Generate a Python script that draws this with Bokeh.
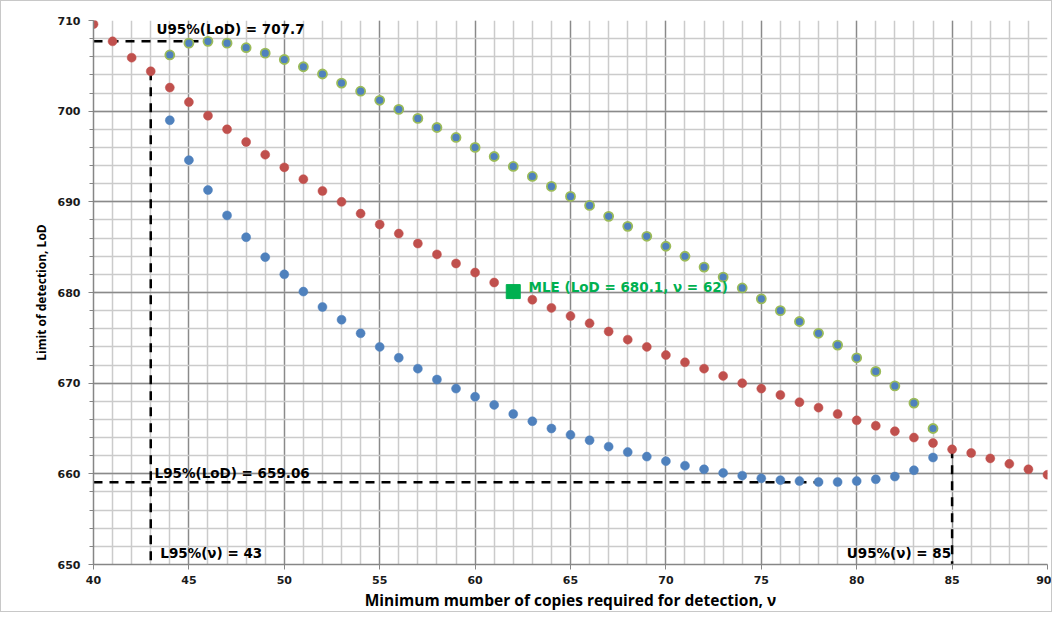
from bokeh.plotting import figure
from bokeh.models import SingleIntervalTicker, Range1d, Label
from bokeh.embed import file_html
from bokeh.resources import INLINE

# ---- data ----
nu_mid = list(range(40, 91))
lod_mid = [709.6, 707.7, 705.9, 704.4, 702.6, 701.0, 699.5, 698.0, 696.6, 695.2,
           693.8, 692.5, 691.2, 690.0, 688.7, 687.5, 686.5, 685.4, 684.2, 683.2,
           682.2, 681.1, 680.1, 679.2, 678.3, 677.4, 676.6, 675.7, 674.8, 674.0,
           673.1, 672.3, 671.6, 670.8, 670.0, 669.4, 668.7, 667.9, 667.3, 666.6,
           665.9, 665.3, 664.7, 664.0, 663.4, 662.7, 662.3, 661.7, 661.1, 660.5,
           659.9]

nu_band = list(range(44, 85))
lod_low = [699.0, 694.6, 691.3, 688.5, 686.1, 683.9, 682.0, 680.1, 678.4, 677.0,
           675.5, 674.0, 672.8, 671.6, 670.4, 669.4, 668.5, 667.6, 666.6, 665.8,
           665.0, 664.3, 663.7, 663.0, 662.4, 661.9, 661.4, 660.9, 660.5, 660.1,
           659.8, 659.5, 659.3, 659.2, 659.1, 659.1, 659.2, 659.4, 659.7, 660.4,
           661.8]
lod_high = [706.2, 707.5, 707.7, 707.5, 707.0, 706.4, 705.7, 704.9, 704.1, 703.1,
            702.2, 701.2, 700.2, 699.2, 698.2, 697.1, 696.0, 695.0, 693.9, 692.8,
            691.7, 690.6, 689.6, 688.4, 687.3, 686.2, 685.1, 684.0, 682.8, 681.7,
            680.5, 679.3, 678.0, 676.8, 675.5, 674.2, 672.8, 671.3, 669.7, 667.8,
            665.0]

U95_LOD = 707.7
L95_LOD = 659.06
L95_NU = 43
U95_NU = 85
MLE_LOD = 680.1
MLE_NU = 62

X_MIN, X_MAX = 40, 90
Y_MIN, Y_MAX = 650, 710

RED = "#C0504D"
BLUE = "#4F81BD"
GREEN_EDGE = "#9BBB59"
MLE_GREEN = "#00B050"
LABEL_FONT = "DejaVu Sans"

p = figure(width=1052, height=612, output_backend="svg", toolbar_location=None,
           x_range=Range1d(X_MIN, X_MAX), y_range=Range1d(Y_MIN, Y_MAX),
           min_border_left=92, min_border_right=6, min_border_top=19,
           min_border_bottom=40)
p.styles = {"border": "1px solid #c8c8c8"}
p.outline_line_color = None
p.background_fill_color = "white"

# axes / ticks
p.xaxis.ticker = SingleIntervalTicker(interval=5, num_minor_ticks=5)
p.yaxis.ticker = SingleIntervalTicker(interval=10, num_minor_ticks=5)
for ax in (p.xaxis[0], p.yaxis[0]):
    ax.axis_line_color = "#868686"
    ax.axis_line_width = 1.5
    ax.major_tick_line_color = "#868686"
    ax.major_tick_out = 5
    ax.major_tick_in = 0
    ax.major_label_text_font = LABEL_FONT
    ax.major_label_text_font_style = "bold"
    ax.major_label_text_font_size = "11px"
    ax.major_label_text_color = "#1a1a1a"
    ax.axis_label_text_font = "Open Sans"
    ax.axis_label_text_font_style = "bold"
    ax.axis_label_text_color = "#000000"
p.xaxis.minor_tick_line_color = None
p.yaxis.minor_tick_line_color = "#868686"
p.yaxis.minor_tick_out = 4
p.yaxis.minor_tick_in = 0
p.xaxis.axis_label = "Minimum mumber of copies required for detection, \u03bd"
p.xaxis.axis_label_text_font_size = "15.5px"
p.xaxis.axis_label_standoff = 2
p.xaxis.major_label_standoff = 6
p.yaxis.axis_label = "Limit of detection, LoD"
p.yaxis.axis_label_text_font_size = "12px"
p.yaxis.major_label_standoff = 8

# grid
p.xgrid.grid_line_color = "#8a8a8a"
p.xgrid.grid_line_width = 1.3
p.xgrid.minor_grid_line_color = "#cbcbcb"
p.xgrid.minor_grid_line_width = 1.5
p.ygrid.grid_line_color = "#8a8a8a"
p.ygrid.grid_line_width = 1.3
p.ygrid.minor_grid_line_color = "#cbcbcb"
p.ygrid.minor_grid_line_width = 1.5

# dashed confidence lines
nu_at_max = nu_band[lod_high.index(max(lod_high))]
nu_at_min = nu_band[lod_low.index(min(lod_low))]
red_at_l95 = lod_mid[nu_mid.index(L95_NU)]
red_at_u95 = lod_mid[nu_mid.index(U95_NU)]
dash = dict(line_color="black", line_width=2.5, line_dash="9 7")
p.line([X_MIN, nu_at_max], [U95_LOD, U95_LOD], **dash)
p.line([L95_NU, L95_NU], [red_at_l95, Y_MIN], **dash)
p.line([X_MIN, nu_at_min + 0.5], [L95_LOD, L95_LOD], **dash)
p.line([U95_NU, U95_NU], [red_at_u95, Y_MIN], **dash)

# series
p.scatter(nu_mid, lod_mid, size=9, fill_color=RED, line_color=RED, line_width=0.5)
p.scatter(nu_band, lod_low, size=9, fill_color=BLUE, line_color=BLUE, line_width=0.5)
p.scatter(nu_band, lod_high, size=9, fill_color=BLUE, line_color=GREEN_EDGE, line_width=1.8)
p.scatter([MLE_NU], [MLE_LOD], marker="square", size=14, fill_color=MLE_GREEN,
          line_color=MLE_GREEN)

# annotations
tkw = dict(text_font=LABEL_FONT, text_font_style="bold", text_font_size="13.5px")
p.add_layout(Label(x=43.3, y=708.2, text=f"U95%(LoD) = {U95_LOD:.1f}",
                   text_baseline="bottom", text_color="black", **tkw))
p.add_layout(Label(x=43.2, y=659.2, text=f"L95%(LoD) = {L95_LOD:.2f}",
                   text_baseline="bottom", text_color="black", **tkw))
p.add_layout(Label(x=43.5, y=650.4, text=f"L95%(\u03bd) = {L95_NU}",
                   text_baseline="bottom", text_color="black", **tkw))
p.add_layout(Label(x=84.95, y=650.4, text=f"U95%(\u03bd) = {U95_NU}",
                   text_baseline="bottom", text_align="right", text_color="black", **tkw))
p.add_layout(Label(x=62.8, y=680.6, text=f"MLE (LoD = {MLE_LOD:.1f}, \u03bd = {MLE_NU})",
                   text_baseline="middle", text_color=MLE_GREEN, **tkw))

open("out.html", "w").write(file_html(p, INLINE))
